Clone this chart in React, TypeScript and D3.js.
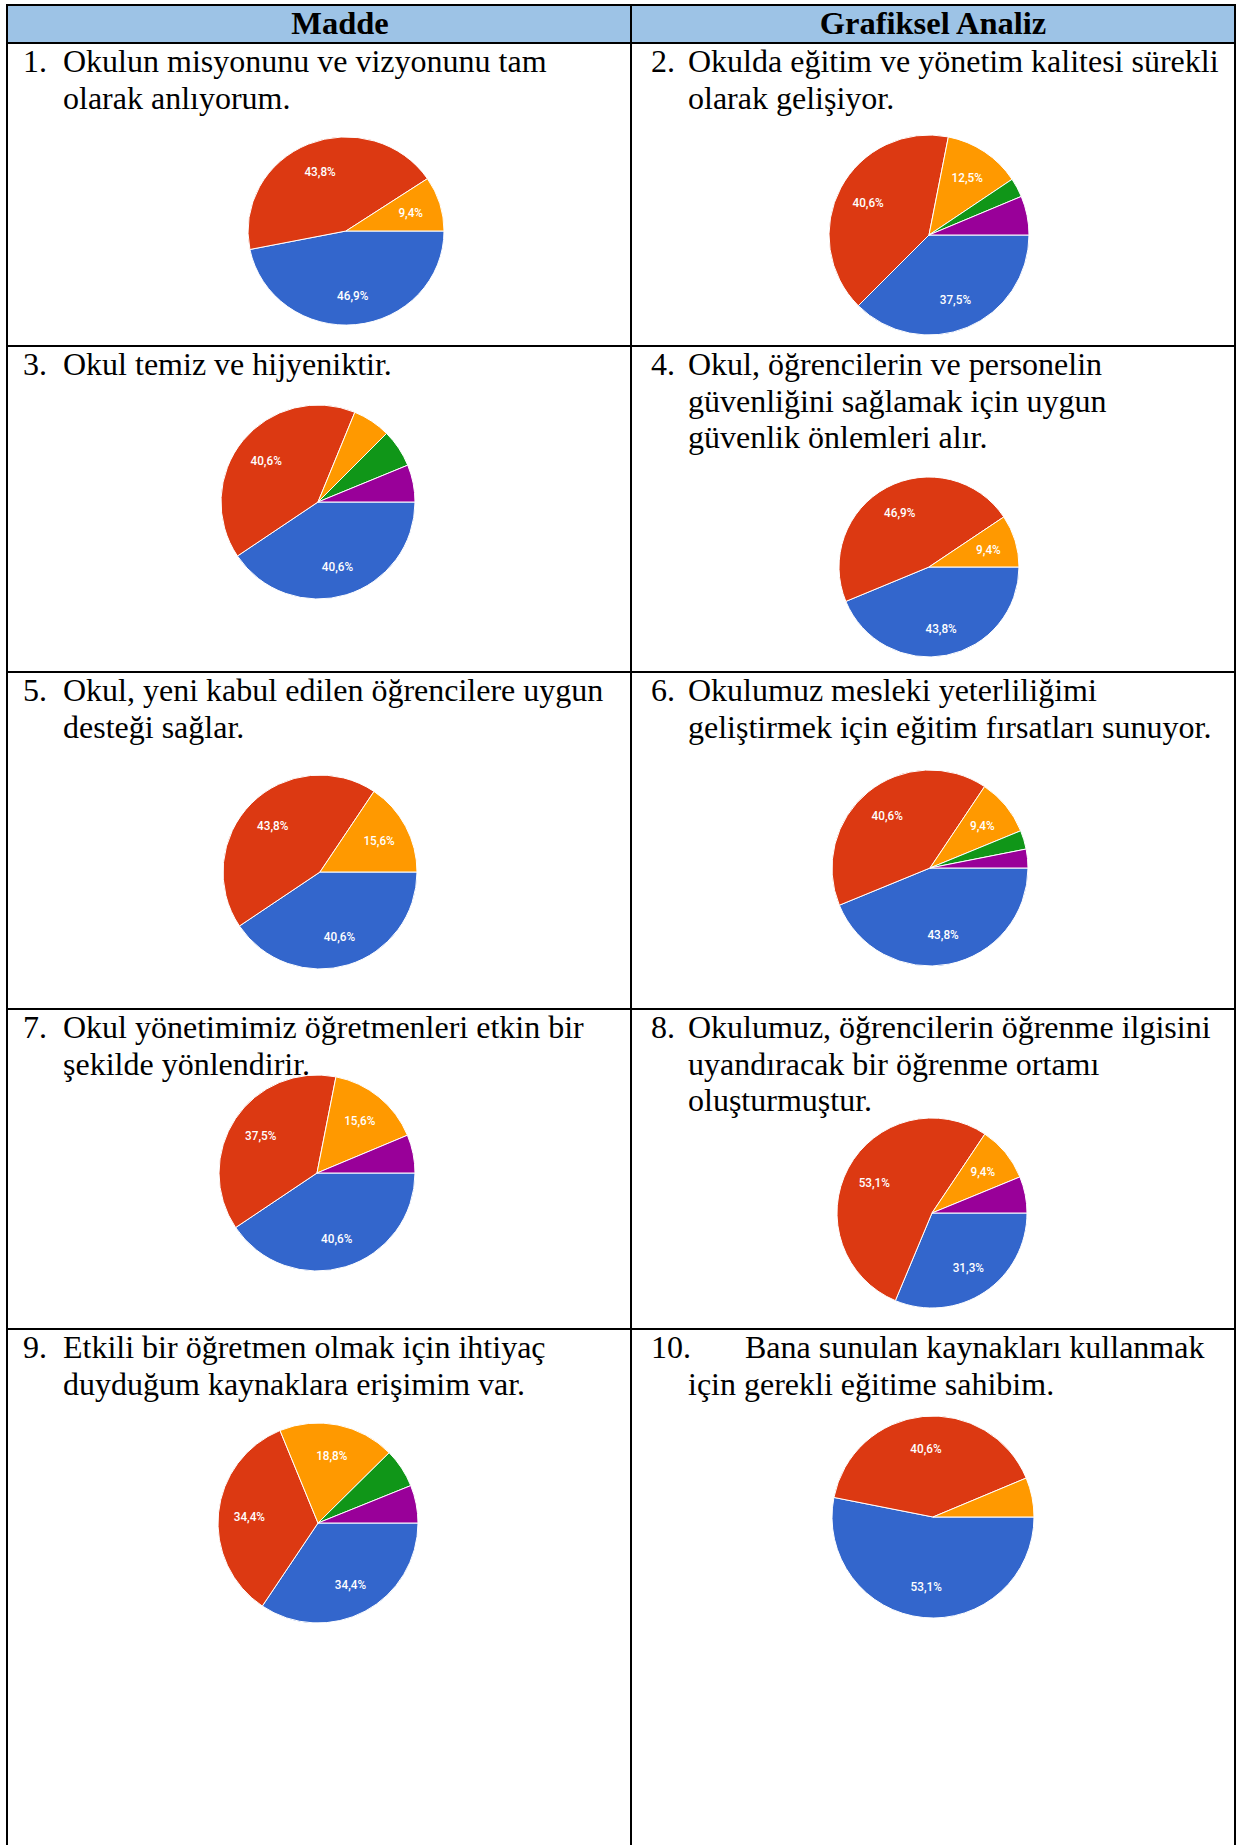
import * as React from 'react';
import * as d3 from 'd3';

// Table header and survey items (Turkish, as in the source document)
const headers = ['Madde', 'Grafiksel Analiz'];
const itemNumbers = ['1.', '2.', '3.', '4.', '5.', '6.', '7.', '8.', '9.', '10.'];
const itemLines = [
  ['Okulun misyonunu ve vizyonunu tam', 'olarak anlıyorum.'],
  ['Okulda eğitim ve yönetim kalitesi sürekli', 'olarak gelişiyor.'],
  ['Okul temiz ve hijyeniktir.'],
  ['Okul, öğrencilerin ve personelin', 'güvenliğini sağlamak için uygun', 'güvenlik önlemleri alır.'],
  ['Okul, yeni kabul edilen öğrencilere uygun', 'desteği sağlar.'],
  ['Okulumuz mesleki yeterliliğimi', 'geliştirmek için eğitim fırsatları sunuyor.'],
  ['Okul yönetimimiz öğretmenleri etkin bir', 'şekilde yönlendirir.'],
  ['Okulumuz, öğrencilerin öğrenme ilgisini', 'uyandıracak bir öğrenme ortamı', 'oluşturmuştur.'],
  ['Etkili bir öğretmen olmak için ihtiyaç', 'duyduğum kaynaklara erişimim var.'],
  ['Bana sunulan kaynakları kullanmak', 'için gerekli eğitime sahibim.'],
];

// answer categories, in slice order (clockwise from 3 o'clock)
const categories = ['Kesinlikle katılıyorum', 'Katılıyorum', 'Kararsızım', 'Katılmıyorum', 'Kesinlikle katılmıyorum'];
const colors = ['#3366cc', '#dc3912', '#ff9900', '#109618', '#990099'];

// percentages per item, same order as categories
const item1 = [46.9, 43.8, 9.4, 0, 0];
const item2 = [37.5, 40.6, 12.5, 3.1, 6.3];
const item3 = [40.6, 40.6, 6.3, 6.3, 6.2];
const item4 = [43.8, 46.9, 9.4, 0, 0];
const item5 = [40.6, 43.8, 15.6, 0, 0];
const item6 = [43.8, 40.6, 9.4, 3.1, 3.1];
const item7 = [40.6, 37.5, 15.6, 0, 6.3];
const item8 = [31.3, 53.1, 9.4, 0, 6.2];
const item9 = [34.4, 34.4, 18.8, 6.3, 6.1];
const item10 = [53.1, 40.6, 6.3, 0, 0];
const itemValues = [item1, item2, item3, item4, item5, item6, item7, item8, item9, item10];

// page layout
const W = 1237;
const H = 1845;
const tableLeft = 7;
const tableRight = 1235;
const tableTop = 5;
const colDivider = 631;
const rowTops = [43, 346, 672, 1009, 1329];
const headerX = [340, 933];
const numX = [23, 651];
const textX = [63, 688];
const lineGap = 36.6;
const pieSpots = [
  {cx: 346, cy: 231, r: 98, sy: 0.96},
  {cx: 929, cy: 235, r: 100, sy: 1},
  {cx: 318, cy: 502, r: 97, sy: 1},
  {cx: 929, cy: 567, r: 90, sy: 1},
  {cx: 320, cy: 872, r: 97, sy: 1},
  {cx: 930, cy: 868, r: 98, sy: 1},
  {cx: 317, cy: 1173, r: 98, sy: 1},
  {cx: 932, cy: 1213, r: 95, sy: 1},
  {cx: 318, cy: 1523, r: 100, sy: 1},
  {cx: 933, cy: 1517, r: 101, sy: 1},
];

const serif = '"Liberation Serif", "Times New Roman", serif';
const labelFont = 'Roboto, "Liberation Sans", Arial, sans-serif';

type Slice = {v: number; i: number};

function Pie({values, cx, cy, r, sy}: {values: number[]; cx: number; cy: number; r: number; sy: number}) {
  const data: Slice[] = values.map((v, i) => ({v, i}));
  const arcs = d3.pie<Slice>()
    .value((d) => d.v)
    .sort(null)
    .startAngle(Math.PI / 2)
    .endAngle(Math.PI / 2 + 2 * Math.PI)(data);
  const arc = d3.arc<d3.PieArcDatum<Slice>>().innerRadius(0).outerRadius(r);
  const labelArc = d3.arc<d3.PieArcDatum<Slice>>().innerRadius(r * 0.69).outerRadius(r * 0.69);
  return <g transform={`translate(${cx},${cy})`}>
    <g transform={`scale(1,${sy})`}>
      {arcs.filter((a) => a.data.v > 0).map((a) =>
        <path key={a.data.i} d={arc(a) || ''} fill={colors[a.data.i]} stroke="#fff" strokeWidth={1}
              strokeLinejoin="round">
          <title>{`${categories[a.data.i]}: ${a.data.v}%`}</title>
        </path>)}
    </g>
    {arcs.filter((a) => a.data.v >= 9).map((a) => {
      const [lx, ly] = labelArc.centroid(a);
      return <text key={'l' + a.data.i} transform={`translate(${lx},${ly * sy}) scale(0.87,1)`}
                   dy="0.36em" textAnchor="middle" fill="#fff" fontFamily={labelFont}
                   fontWeight={500} fontSize={13.5}>
        {a.data.v.toFixed(1).replace('.', ',') + '%'}
      </text>;
    })}
  </g>;
}

export default function App() {
  return <svg width={W} height={H} viewBox={`0 0 ${W} ${H}`}
              style={{position: 'absolute', left: 0, top: 0, background: '#fff'}}>
    <rect x={tableLeft} y={tableTop} width={tableRight - tableLeft} height={rowTops[0] - tableTop} fill="#9dc3e6" />
    {headers.map((h, c) =>
      <text key={h} x={headerX[c]} y={34} textAnchor="middle" fontFamily={serif}
            fontWeight="bold" fontSize={32.5}>{h}</text>)}
    {itemLines.map((lines, k) => {
      const col = k % 2;
      const row = Math.floor(k / 2);
      const base = rowTops[row] + 29;
      // item 10 has a tab after its number in the original document
      const firstX = k === 9 ? 745 : textX[col];
      return <g key={k} fontFamily={serif} fontSize={32}>
        <text x={numX[col]} y={base}>{itemNumbers[k]}</text>
        {lines.map((l, j) =>
          <text key={j} x={j === 0 ? firstX : textX[col]} y={base + j * lineGap}>{l}</text>)}
      </g>;
    })}
    {itemValues.map((v, k) => <Pie key={k} values={v} {...pieSpots[k]} />)}
    {/* table rules */}
    <g stroke="#000" strokeWidth={2}>
      <line x1={tableLeft - 1} x2={tableRight + 1} y1={tableTop} y2={tableTop} />
      {rowTops.map((y) => <line key={y} x1={tableLeft} x2={tableRight} y1={y} y2={y} />)}
      <line x1={tableLeft} x2={tableLeft} y1={tableTop} y2={H} />
      <line x1={colDivider} x2={colDivider} y1={tableTop} y2={H} />
      <line x1={tableRight} x2={tableRight} y1={tableTop} y2={H} />
    </g>
  </svg>;
}
